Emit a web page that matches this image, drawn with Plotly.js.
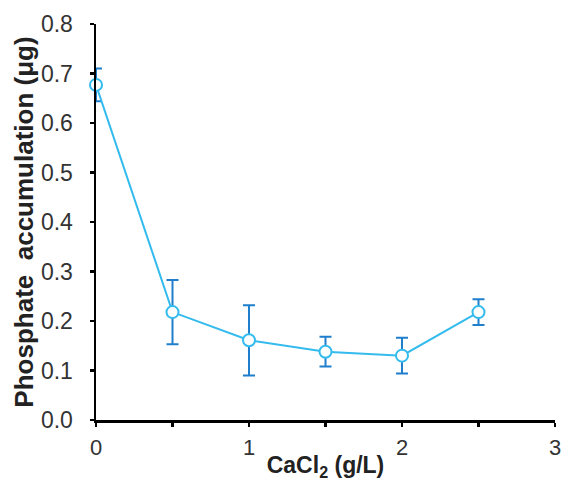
<!DOCTYPE html>
<html>
<head>
<meta charset="utf-8">
<script src="https://cdn.plot.ly/plotly-3.0.1.min.js"></script>
<style>html,body{margin:0;padding:0;background:#fff;}#chart{width:563px;height:481px;}</style>
</head>
<body>
<div id="chart"></div>
<script>
const cacl2 = [0, 0.5, 1, 1.5, 2, 2.5];
const phosphate = [0.677, 0.218, 0.161, 0.138, 0.130, 0.218];
const errors = [0.033, 0.065, 0.071, 0.030, 0.036, 0.026];
const xTickVals = [0, 0.5, 1, 1.5, 2, 2.5, 3];
const xTickText = ['0', '', '1', '', '2', '', '3'];

const FONT = 'Liberation Sans, Arial, sans-serif';
const trace = {
  x: cacl2, y: phosphate, type: 'scatter', mode: 'lines+markers',
  line: {color: '#33bbee', width: 2},
  marker: {symbol: 'circle', size: 12, color: '#ffffff', line: {color: '#33bbee', width: 2}},
  error_y: {type: 'data', array: errors, visible: true, color: '#1f7fcc', thickness: 2, width: 6},
  cliponaxis: false
};
const layout = {
  width: 563, height: 481,
  margin: {l: 96, r: 8, t: 24, b: 61},
  paper_bgcolor: '#fff', plot_bgcolor: '#fff',
  font: {family: FONT, size: 21, color: '#333'},
  showlegend: false,
  xaxis: {
    range: [0, 3], tickvals: xTickVals, ticktext: xTickText,
    showgrid: false, zeroline: false, showline: true, linecolor: '#000', linewidth: 2.5,
    ticks: 'outside', ticklen: 4, tickwidth: 2.5, tickcolor: '#000', ticklabelstandoff: 2,
    tickfont: {size: 22, color: '#333'},
    title: {text: 'CaCl<sub>2</sub> (g/L)', font: {size: 23, color: '#222', family: FONT, weight: 'bold'}, standoff: 0}
  },
  yaxis: {
    range: [0, 0.8], dtick: 0.1, tickformat: '.1f',
    showgrid: false, zeroline: false, showline: true, linecolor: '#000', linewidth: 2.5,
    ticks: 'outside', ticklen: 4, tickwidth: 2.5, tickcolor: '#000', ticklabelstandoff: 12,
    tickfont: {size: 23, color: '#333'},
    title: {text: 'Phosphate  accumulation (μg)', font: {size: 26, color: '#222', family: FONT, weight: 'bold'}, standoff: 0}
  }
};
Plotly.newPlot('chart', [trace], layout, {displayModeBar: false, staticPlot: true});
</script>
</body>
</html>
